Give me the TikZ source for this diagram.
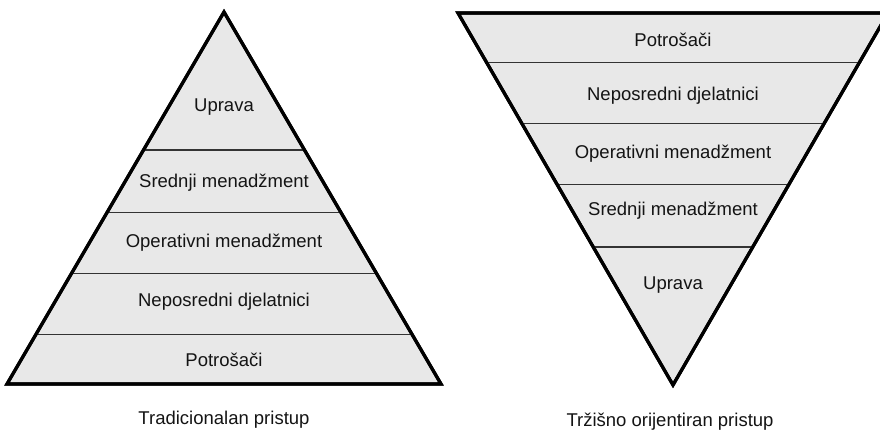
\documentclass[tikz,border=0pt]{standalone}
\usepackage{fontspec}
\setmainfont{Liberation Sans}
\usetikzlibrary{calc}
\definecolor{bandfill}{HTML}{E8E8E8}
\definecolor{txt}{HTML}{141414}
\tikzset{
  outline/.style={draw=black, line width=3.2pt, line join=miter, fill=bandfill},
  divider/.style={draw=black!80, line width=1.1pt},
  lbl/.style={font=\fontsize{18.5}{22}\selectfont, text=txt, inner sep=0pt, anchor=center},
}
\begin{document}
\begin{tikzpicture}[x=1pt,y=-1pt]
\clip (0,0) rectangle (880,430);
\fill[white] (0,0) rectangle (880,430);
% left pyramid
\coordinate (LA) at (224,12);
\coordinate (LL) at (7,384);
\coordinate (LR) at (441,384);
\path[outline] (LA) -- (LL) -- (LR) -- cycle;
\foreach \t in {0.371,0.538,0.702,0.868}
  \draw[divider] ($(LA)!\t!(LL)$) -- ($(LA)!\t!(LR)$);
\path[draw=black, line width=3.2pt, line join=miter] (LA) -- (LL) -- (LR) -- cycle;
\node[lbl] (l1) at (224,107) {Uprava};
\node[lbl] (l2) at (224,183) {Srednji menadžment};
\node[lbl] (l3) at (224,243) {Operativni menadžment};
\node[lbl] (l4) at (224,302) {Neposredni djelatnici};
\node[lbl] (l5) at (224,360) {Potrošači};
\node[lbl] (lt) at (224,420) {Tradicionalan pristup};
% right inverted pyramid
\coordinate (RA) at (673,385);
\coordinate (RL) at (458,13);
\coordinate (RR) at (888,13);
\path[outline] (RA) -- (RL) -- (RR) -- cycle;
\foreach \t in {0.371,0.538,0.702,0.868}
  \draw[divider] ($(RA)!\t!(RL)$) -- ($(RA)!\t!(RR)$);
\path[draw=black, line width=3.2pt, line join=miter] (RA) -- (RL) -- (RR) -- cycle;
\node[lbl] (r1) at (673,40) {Potrošači};
\node[lbl] (r2) at (673,96) {Neposredni djelatnici};
\node[lbl] (r3) at (673,154) {Operativni menadžment};
\node[lbl] (r4) at (673,211) {Srednji menadžment};
\node[lbl] (r5) at (673,285) {Uprava};
\node[lbl] (rt) at (670,422) {Tržišno orijentiran pristup};
\end{tikzpicture}
\end{document}
